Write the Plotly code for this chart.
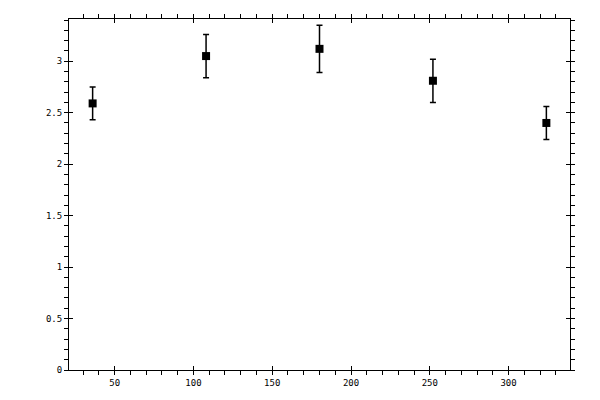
import plotly.graph_objects as go

# measured values
x_vals = [36, 108, 180, 252, 324]
y_vals = [2.59, 3.05, 3.12, 2.81, 2.40]
y_err = [0.16, 0.21, 0.23, 0.21, 0.16]

fig = go.Figure()

fig.add_trace(go.Scatter(
    x=x_vals, y=y_vals,
    mode="markers",
    marker=dict(symbol="square", size=8, color="black"),
    error_y=dict(type="data", array=y_err, color="black", thickness=1.5, width=3),
    showlegend=False,
))

# invisible copy so the overlay axes (inside half of the major ticks) get drawn
fig.add_trace(go.Scatter(
    x=x_vals, y=y_vals, xaxis="x2", yaxis="y2",
    mode="markers", marker=dict(opacity=0),
    hoverinfo="skip", showlegend=False,
))

font = dict(family="DejaVu Sans Mono", size=9, color="black")

# page has an 8px body margin, so margins are shifted to compensate
fig.update_layout(
    width=600, height=400,
    margin=dict(l=61, r=38, t=11, b=38),
    plot_bgcolor="white", paper_bgcolor="white",
    font=font,
    xaxis=dict(
        range=[21, 339], dtick=50, tick0=0, automargin=False,
        showgrid=False, zeroline=False,
        showline=True, linecolor="black", linewidth=1, mirror="allticks",
        ticks="outside", ticklen=4, tickcolor="black",
        minor=dict(dtick=10, ticks="outside", ticklen=4, tickcolor="black"),
        tickfont=font,
    ),
    yaxis=dict(
        range=[0, 3.41], dtick=0.5, tick0=0, automargin=False,
        showgrid=False, zeroline=False,
        showline=True, linecolor="black", linewidth=1, mirror="allticks",
        ticks="outside", ticklen=4, tickcolor="black",
        minor=dict(dtick=0.1, ticks="outside", ticklen=4, tickcolor="black"),
        tickfont=font,
    ),
    xaxis2=dict(
        overlaying="x", matches="x", side="bottom", automargin=False,
        dtick=50, tick0=0, showgrid=False, zeroline=False,
        showline=False, showticklabels=False, mirror="ticks",
        ticks="inside", ticklen=4, tickcolor="black",
    ),
    yaxis2=dict(
        overlaying="y", matches="y", side="left", automargin=False,
        dtick=0.5, tick0=0, showgrid=False, zeroline=False,
        showline=False, showticklabels=False, mirror="ticks",
        ticks="inside", ticklen=4, tickcolor="black",
    ),
)

fig.write_html("out.html")
